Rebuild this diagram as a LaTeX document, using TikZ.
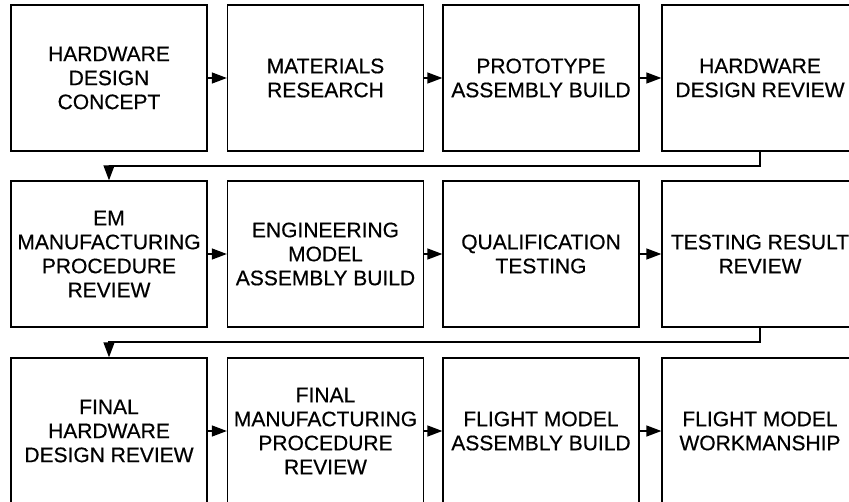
\documentclass[tikz,border=0pt]{standalone}
\usepackage{fontspec}
\setmainfont{Liberation Sans}
\newfontfamily\heavyfont[FakeBold=0.5]{Liberation Sans}
\usetikzlibrary{arrows.meta,calc}
\tikzset{
  stagebox/.style={draw=black, line width=1.3pt, minimum width=196pt, minimum height=146pt,
    inner sep=0pt, align=center, font=\heavyfont\fontsize{21}{24}\selectfont},
  arr/.style={draw=black, line width=1.3pt, -{Triangle[length=15pt,width=11pt]}},
}
\begin{document}
\begin{tikzpicture}[x=1pt,y=-1pt]
\useasboundingbox (0,0) rectangle (849,501);
\clip (0,0) rectangle (849,501);
\fill[white] (0,0) rectangle (849,501);
% row 1
\node[stagebox] (a1) at (109,78) {HARDWARE\\DESIGN\\CONCEPT};
\node[stagebox] (a2) at (325.5,78) {MATERIALS\\RESEARCH};
\node[stagebox] (a3) at (541,78) {PROTOTYPE\\ASSEMBLY BUILD};
\node[stagebox] (a4) at (760,78) {HARDWARE\\DESIGN REVIEW};
% row 2
\node[stagebox] (b1) at (109,254) {EM\\MANUFACTURING\\PROCEDURE\\REVIEW};
\node[stagebox] (b2) at (325.5,254) {ENGINEERING\\MODEL\\ASSEMBLY BUILD};
\node[stagebox] (b3) at (541,254) {QUALIFICATION\\TESTING};
\node[stagebox] (b4) at (760,254) {TESTING RESULT\\REVIEW};
% row 3
\node[stagebox] (c1) at (109,431) {FINAL\\HARDWARE\\DESIGN REVIEW};
\node[stagebox] (c2) at (325.5,431) {FINAL\\MANUFACTURING\\PROCEDURE\\REVIEW};
\node[stagebox] (c3) at (541,431) {FLIGHT MODEL\\ASSEMBLY BUILD};
\node[stagebox] (c4) at (760,431) {FLIGHT MODEL\\WORKMANSHIP};
% horizontal arrows
\draw[arr] (a1) -- (a2);
\draw[arr] (a2) -- (a3);
\draw[arr] (a3) -- (a4);
\draw[arr] (b1) -- (b2);
\draw[arr] (b2) -- (b3);
\draw[arr] (b3) -- (b4);
\draw[arr] (c1) -- (c2);
\draw[arr] (c2) -- (c3);
\draw[arr] (c3) -- (c4);
% row-to-row connectors
\coordinate (k1) at (400,166);
\coordinate (k2) at (400,342);
\draw[arr] (a4.south) |- (k1) -| (b1.north);
\draw[arr] (b4.south) |- (k2) -| (c1.north);
\end{tikzpicture}
\end{document}
